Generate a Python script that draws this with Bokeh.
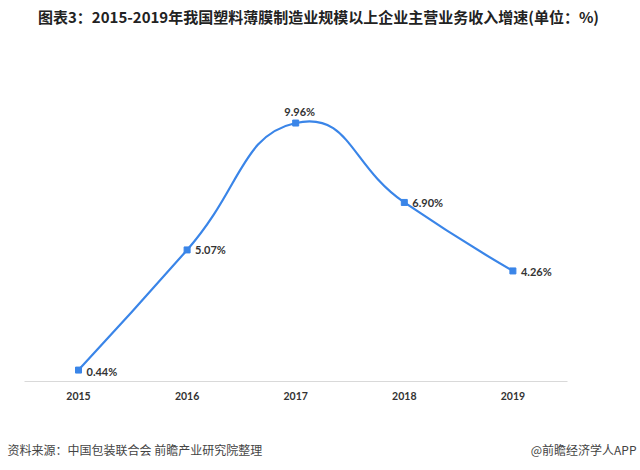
from bokeh.plotting import figure
from bokeh.models import ColumnDataSource, Label, Range1d, FixedTicker
from bokeh.core.properties import value
from bokeh.embed import file_html
from bokeh.resources import INLINE

years = ["2015", "2016", "2017", "2018", "2019"]
growth = [0.44, 5.07, 9.96, 6.90, 4.26]
labels = ["0.44%", "5.07%", "9.96%", "6.90%", "4.26%"]

title_text = "图表3：2015-2019年我国塑料薄膜制造业规模以上企业主营业务收入增速(单位：%)"
source_text = "资料来源：中国包装联合会 前瞻产业研究院整理"
brand_text = "@前瞻经济学人APP"

BLUE = "#3a85e8"
W, H = 640, 470

# layout: the frame covers the whole canvas; the ranges place the chart area
PX_X = 108.6   # pixels per category step
PX_Y = 25.95   # pixels per percentage point
X0_PX = 78     # pixel position of first category
Y0_PX = 89     # pixel height of the zero line above the bottom edge
x_start = -X0_PX / PX_X
y_start = -Y0_PX / PX_Y

xs = list(range(len(years)))
p = figure(width=W, height=H, output_backend="svg", toolbar_location=None,
           x_range=Range1d(x_start, x_start + W / PX_X),
           y_range=Range1d(y_start, y_start + H / PX_Y),
           y_axis_location=None, min_border=0, min_border_left=0,
           min_border_right=0, min_border_top=0, min_border_bottom=0)
p.outline_line_color = None
p.grid.visible = False

# smooth curve (cardinal-like bezier through the data points)
k = 0.25
n = len(xs)
x0, y0, x1, y1, cx0, cy0, cx1, cy1 = [], [], [], [], [], [], [], []
for i in range(n - 1):
    pa = (xs[i], growth[i])
    pb = (xs[i + 1], growth[i + 1])
    prev = (xs[i - 1], growth[i - 1]) if i > 0 else pa
    nxt = (xs[i + 2], growth[i + 2]) if i + 2 < n else pb
    c1 = (pa[0] + (pb[0] - prev[0]) * k, pa[1] + (pb[1] - prev[1]) * k) if i > 0 else pa
    c2 = (pb[0] - (nxt[0] - pa[0]) * k, pb[1] - (nxt[1] - pa[1]) * k) if i + 2 < n else pb
    x0.append(pa[0]); y0.append(pa[1]); x1.append(pb[0]); y1.append(pb[1])
    cx0.append(c1[0]); cy0.append(c1[1]); cx1.append(c2[0]); cy1.append(c2[1])

p.bezier(x0=x0, y0=y0, x1=x1, y1=y1, cx0=cx0, cy0=cy0, cx1=cx1, cy1=cy1,
         line_color=BLUE, line_width=2.2)
p.scatter(xs, growth, marker="square", size=6, fill_color=BLUE, line_color=BLUE)

src = ColumnDataSource(dict(
    x=xs, y=growth, t=labels,
    xo=[8, 8, 4, 8, 8], yo=[1, 0, -5, 0, 1],
    al=["left", "left", "center", "left", "left"],
    bl=["middle", "middle", "bottom", "middle", "middle"],
))
p.text(x="x", y="y", text="t", x_offset="xo", y_offset="yo", text_align="al",
       text_baseline="bl", source=src, text_font=value("Lato"),
       text_font_style="bold", text_font_size="11px", text_color="#333333")

p.xaxis.fixed_location = 0
p.xaxis.bounds = (-0.5, len(years) - 0.5)
p.xaxis.ticker = FixedTicker(ticks=xs)
p.xaxis.major_label_overrides = {i: y for i, y in zip(xs, years)}
p.xaxis.axis_line_color = "#d9d9d9"
p.xaxis.major_tick_line_color = None
p.xaxis.minor_tick_line_color = None
p.xaxis.major_label_standoff = 4
p.xaxis.major_label_text_font = "Lato"
p.xaxis.major_label_text_font_style = "bold"
p.xaxis.major_label_text_font_size = "10.5px"
p.xaxis.major_label_text_color = "#333333"

p.add_layout(Label(x=318, y=H - 16, x_units="screen", y_units="screen",
                   text=title_text, text_align="center", text_baseline="middle",
                   text_font="Noto Sans CJK SC", text_font_style="bold",
                   text_font_size="15px", text_color="#222222"))
p.add_layout(Label(x=7, y=H - 449, x_units="screen", y_units="screen",
                   text=source_text, text_align="left", text_baseline="middle",
                   text_font="Noto Sans CJK SC", text_font_size="12px",
                   text_color="#444444"))
p.add_layout(Label(x=636, y=H - 449, x_units="screen", y_units="screen",
                   text=brand_text, text_align="right", text_baseline="middle",
                   text_font="Noto Sans CJK SC", text_font_size="12px",
                   text_color="#444444"))

open("out.html", "w").write(file_html(p, INLINE))
